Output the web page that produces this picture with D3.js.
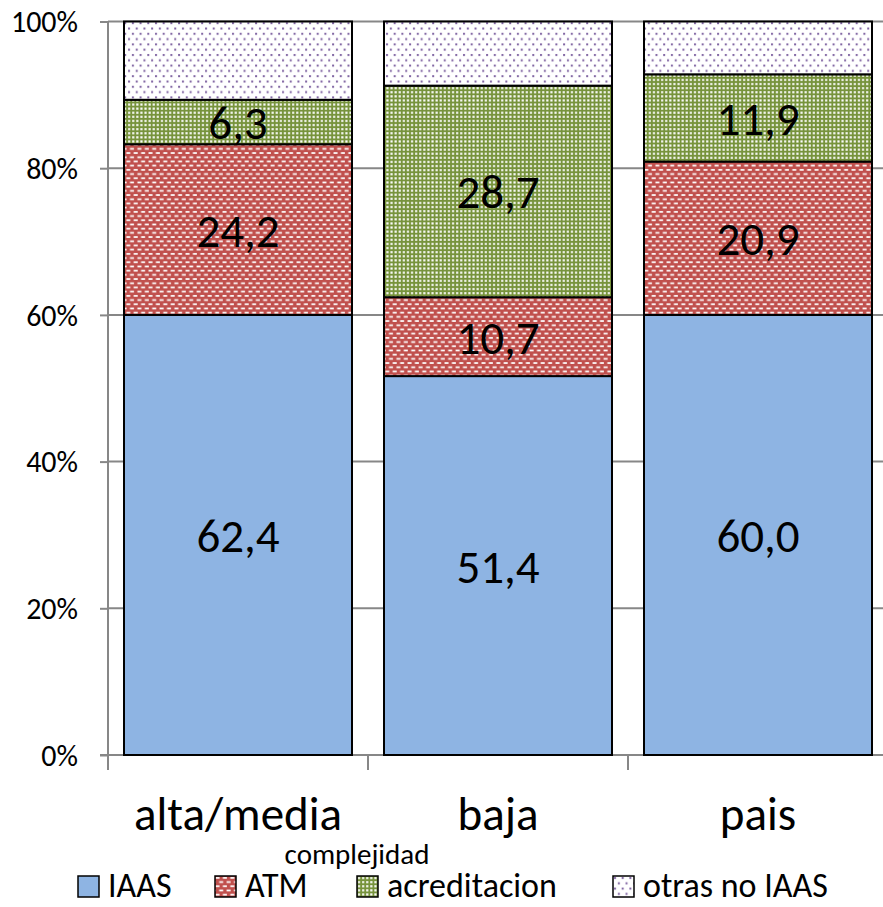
<!DOCTYPE html>
<html>
<head>
<meta charset="utf-8">
<script src="https://cdn.jsdelivr.net/npm/d3@7"></script>
<style>
  html, body { margin: 0; padding: 0; background: #fff; }
  svg { display: block; font-family: Carlito, Calibri, Lato, sans-serif; }
</style>
</head>
<body>
<svg id="chart" width="883" height="907"></svg>
<script>
// Categories and series (percent shares, stacked to 100%)
const categories = ["alta/media", "baja", "pais"];
const iaas = [62.4, 51.4, 60.0];
const atm = [24.2, 10.7, 20.9];
const acreditacion = [6.3, 28.7, 11.9];
const otrasNoIaas = [11.1, 8.7, 7.2];
const yTicks = [0, 0.2, 0.4, 0.6, 0.8, 1.0];
const seriesNames = ["IAAS", "ATM", "acreditacion", "otras no IAAS"];
const axisTitle = "complejidad";

const rows = categories.map((c, i) => ({
  cat: c,
  "IAAS": iaas[i],
  "ATM": atm[i],
  "acreditacion": acreditacion[i],
  "otras no IAAS": otrasNoIaas[i]
}));

const svg = d3.select("#chart");

// Fill patterns
const defs = svg.append("defs");
const pAtm = defs.append("pattern").attr("id", "pat-atm")
  .attr("patternUnits", "userSpaceOnUse").attr("width", 7.4).attr("height", 8.4);
pAtm.append("rect").attr("width", 7.4).attr("height", 8.4).attr("fill", "#C0504D");
pAtm.append("rect").attr("x", 0.5).attr("y", 1).attr("width", 4).attr("height", 1.7).attr("fill", "#fff");
pAtm.append("rect").attr("x", 4.2).attr("y", 5.2).attr("width", 4).attr("height", 1.7).attr("fill", "#fff");
pAtm.append("rect").attr("x", -3.2).attr("y", 5.2).attr("width", 4).attr("height", 1.7).attr("fill", "#fff");

const pAcr = defs.append("pattern").attr("id", "pat-acr")
  .attr("patternUnits", "userSpaceOnUse").attr("width", 4.1).attr("height", 4.1);
pAcr.append("rect").attr("width", 4.1).attr("height", 4.1).attr("fill", "#77933C");
pAcr.append("rect").attr("x", 1).attr("y", 1).attr("width", 2.1).attr("height", 2.1).attr("fill", "#fff");

const pOtr = defs.append("pattern").attr("id", "pat-otr")
  .attr("patternUnits", "userSpaceOnUse").attr("width", 7.7).attr("height", 10.6);
pOtr.append("rect").attr("width", 7.7).attr("height", 10.6).attr("fill", "#fff");
pOtr.append("rect").attr("x", 1).attr("y", 1).attr("width", 2).attr("height", 2).attr("fill", "#8064A2");
pOtr.append("rect").attr("x", 4.85).attr("y", 6.3).attr("width", 2).attr("height", 2).attr("fill", "#8064A2");

const fills = {
  "IAAS": "#8EB4E3",
  "ATM": "url(#pat-atm)",
  "acreditacion": "url(#pat-acr)",
  "otras no IAAS": "url(#pat-otr)"
};

// Scales
const x = d3.scaleBand().domain(categories).range([108, 888])
  .paddingInner(32 / 260).paddingOuter(16 / 260);
const y = d3.scaleLinear().domain([0, 1]).range([755, 21.5]);

// Gridlines
svg.append("g").selectAll("line").data(yTicks.filter(t => t > 0)).join("line")
  .attr("x1", 108).attr("x2", 883)
  .attr("y1", d => y(d)).attr("y2", d => y(d))
  .attr("stroke", "#878787").attr("stroke-width", 2);

// Y axis
const yAxis = svg.append("g").attr("transform", "translate(108,0)")
  .call(d3.axisLeft(y).tickValues(yTicks).tickSize(8).tickPadding(22)
    .tickFormat(d => Math.round(d * 100) + "%"));
yAxis.select(".domain").attr("stroke", "#878787").attr("stroke-width", 2)
  .attr("d", `M0,${y(1)}V770`);
yAxis.selectAll(".tick line").attr("stroke", "#878787").attr("stroke-width", 2);
yAxis.selectAll(".tick text").attr("font-size", 30).attr("fill", "#000")
  .attr("font-family", "Carlito, Calibri, Lato, sans-serif").attr("dy", "0.34em");

// X axis: baseline and boundary ticks
const step = x.step();
const bounds = d3.range(categories.length + 1).map(i => 108 + i * step);
svg.append("line").attr("x1", 100).attr("x2", 883).attr("y1", y(0)).attr("y2", y(0))
  .attr("stroke", "#878787").attr("stroke-width", 2);
svg.append("g").selectAll("line").data(bounds.slice(1)).join("line")
  .attr("x1", d => d).attr("x2", d => d).attr("y1", y(0)).attr("y2", 770)
  .attr("stroke", "#878787").attr("stroke-width", 2);
svg.append("g").selectAll("text").data(categories).join("text")
  .attr("x", d => x(d) + x.bandwidth() / 2).attr("y", 830)
  .attr("text-anchor", "middle").attr("font-size", 47).attr("fill", "#000")
  .text(d => d);

// Stacked bars, normalised to 100%
const stack = d3.stack().keys(seriesNames).offset(d3.stackOffsetExpand);
const layers = stack(rows);

const gLayers = svg.append("g").selectAll("g").data(layers).join("g")
  .attr("fill", d => fills[d.key]);
gLayers.selectAll("rect").data(d => d).join("rect")
  .attr("x", d => x(d.data.cat))
  .attr("width", x.bandwidth())
  .attr("y", d => y(d[1]))
  .attr("height", d => y(d[0]) - y(d[1]))
  .attr("stroke", "#000").attr("stroke-width", 2);

// Value labels for the first three series
svg.append("g").selectAll("g").data(layers.filter(l => l.key !== "otras no IAAS")).join("g")
  .selectAll("text").data(d => d.map(p => ({ p, key: d.key }))).join("text")
  .attr("x", d => x(d.p.data.cat) + x.bandwidth() / 2)
  .attr("y", d => (y(d.p[0]) + y(d.p[1])) / 2 + 17)
  .attr("text-anchor", "middle").attr("font-size", 47).attr("fill", "#000")
  .text(d => d3.format(".1f")(d.p.data[d.key]).replace(".", ","));

// Axis title
svg.append("text").attr("x", 357).attr("y", 864).attr("text-anchor", "middle")
  .attr("font-size", 29).attr("fill", "#000").text(axisTitle);

// Legend
const legendX = [78, 215, 357, 613];
const legend = svg.append("g").selectAll("g").data(seriesNames).join("g")
  .attr("transform", (d, i) => `translate(${legendX[i]},876)`);
legend.append("rect").attr("width", 21).attr("height", 21)
  .attr("fill", d => fills[d]).attr("stroke", "#000").attr("stroke-width", 1.5);
legend.append("text").attr("x", 30).attr("y", 21).attr("font-size", 34)
  .attr("fill", "#000").text(d => d);
</script>
</body>
</html>
